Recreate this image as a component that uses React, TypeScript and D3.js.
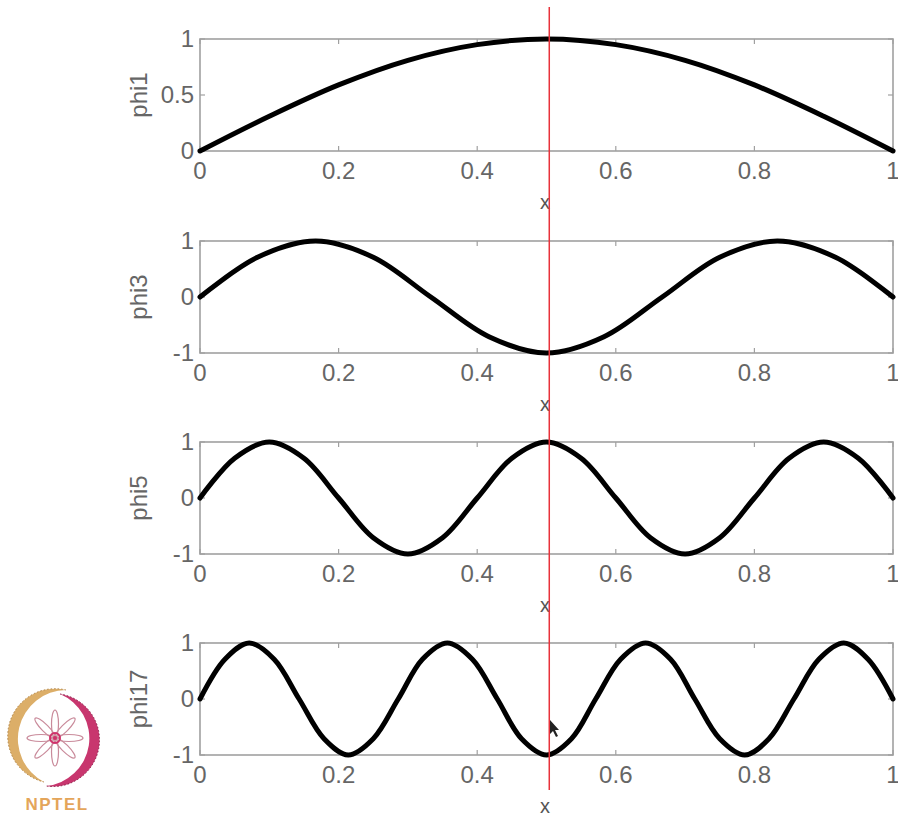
import React from 'react';
import * as d3 from 'd3';

// tick values / labels
const xTicks = [0, 0.2, 0.4, 0.6, 0.8, 1];
const xTickLabels = ['0', '0.2', '0.4', '0.6', '0.8', '1'];
const yTicksPos = [0, 0.5, 1];
const yTickLabelsPos = ['0', '0.5', '1'];
const yTicksSym = [-1, 0, 1];
const yTickLabelsSym = ['-1', '0', '1'];

// curves
const phi1X = [0, 0.1, 0.2, 0.3, 0.4, 0.5, 0.6, 0.7, 0.8, 0.9, 1];
const phi1Y = [0, 0.31, 0.59, 0.81, 0.95, 1, 0.95, 0.81, 0.59, 0.31, 0];

const phi3X = [0, 0.083, 0.167, 0.25, 0.333, 0.417, 0.5, 0.583, 0.667, 0.75, 0.833, 0.917, 1];
const phi3Y = [0, 0.71, 1, 0.71, 0, -0.71, -1, -0.71, 0, 0.71, 1, 0.71, 0];

const phi5X = [0, 0.05, 0.1, 0.15, 0.2, 0.25, 0.3, 0.35, 0.4, 0.45, 0.5, 0.55, 0.6, 0.65, 0.7, 0.75, 0.8, 0.85, 0.9, 0.95, 1];
const phi5Y = [0, 0.71, 1, 0.71, 0, -0.71, -1, -0.71, 0, 0.71, 1, 0.71, 0, -0.71, -1, -0.71, 0, 0.71, 1, 0.71, 0];

const phi17X = [0, 0.036, 0.071, 0.107, 0.143, 0.179, 0.214, 0.25, 0.286, 0.321, 0.357, 0.393, 0.429, 0.464, 0.5,
  0.536, 0.571, 0.607, 0.643, 0.679, 0.714, 0.75, 0.786, 0.821, 0.857, 0.893, 0.929, 0.964, 1];
const phi17Y = [0, 0.71, 1, 0.71, 0, -0.71, -1, -0.71, 0, 0.71, 1, 0.71, 0, -0.71, -1,
  -0.71, 0, 0.71, 1, 0.71, 0, -0.71, -1, -0.71, 0, 0.71, 1, 0.71, 0];

const panelNames = ['phi1', 'phi3', 'phi5', 'phi17'];
const cursorX = 0.504;

const W = 898;
const H = 818;
const left = 200;
const right = 893;
const tops = [39, 241, 442, 643];
const plotH = 112;
const font = '"Liberation Sans", Arial, Helvetica, sans-serif';
const axisColor = '#a0a0a0';
const textColor = '#666';

function Panel({ top, name, xs, ys, yTicks, yLabels }) {
  const x = d3.scaleLinear().domain([0, 1]).range([left, right]);
  const y = d3.scaleLinear().domain([yTicks[0], yTicks[yTicks.length - 1]]).range([top + plotH, top]);
  const line = d3.line<number>()
    .x((d, i) => x(xs[i]))
    .y((d) => y(d))
    .curve(d3.curveCatmullRom);
  const bottom = top + plotH;
  const tk = 5;

  return (
    <g>
      <rect x={left} y={top} width={right - left} height={plotH} fill="white" stroke={axisColor} strokeWidth={1.6} />
      {xTicks.map((t) => (
        <g key={'xt' + t}>
          <line x1={x(t)} x2={x(t)} y1={bottom} y2={bottom - tk} stroke={axisColor} strokeWidth={1.2} />
          <line x1={x(t)} x2={x(t)} y1={top} y2={top + tk} stroke={axisColor} strokeWidth={1.2} />
        </g>
      ))}
      {yTicks.map((t) => (
        <g key={'yt' + t}>
          <line x1={left} x2={left + tk} y1={y(t)} y2={y(t)} stroke={axisColor} strokeWidth={1.2} />
          <line x1={right} x2={right - tk} y1={y(t)} y2={y(t)} stroke={axisColor} strokeWidth={1.2} />
        </g>
      ))}
      <path d={line(ys) || ''} fill="none" stroke="#000" strokeWidth={5} strokeLinejoin="round" strokeLinecap="round" />
      {xTicks.map((t, i) => (
        <text key={'xl' + t} x={x(t)} y={bottom + 28} textAnchor="middle" fontSize={24} fill={textColor} fontFamily={font}>
          {xTickLabels[i]}
        </text>
      ))}
      {yTicks.map((t, i) => (
        <text key={'yl' + t} x={left - 6} y={y(t)} dy="0.35em" textAnchor="end" fontSize={24} fill={textColor} fontFamily={font}>
          {yLabels[i]}
        </text>
      ))}
      <text transform={`translate(147,${top + plotH / 2}) rotate(-90)`} textAnchor="middle" fontSize={24} fill={textColor} fontFamily={font}>
        {name}
      </text>
      <text x={545} y={bottom + 58} textAnchor="middle" fontSize={20} fill="#555" fontFamily={font}>x</text>
    </g>
  );
}

function Logo() {
  const petals = d3.range(8).map((i) => i * 45);
  return (
    <g>
      {/* left golden crescent */}
      <path d="M66,690 A47,47 0 0,0 44,782 A48.8,48.8 0 0,1 66,690 Z" fill="#dcae68" />
      <path d="M66,690 A47,47 0 0,0 44,782" fill="none" stroke="#b08448" strokeWidth={1} strokeDasharray="1.5 2" />
      {/* right magenta crescent */}
      <path d="M60,694 A46,46 0 0,1 46,786 A48,48 0 0,0 60,694 Z" fill="#c8366e" />
      <path d="M60,694 A46,46 0 0,1 46,786" fill="none" stroke="#8a1e48" strokeWidth={1} strokeDasharray="1.5 2" />
      <g transform="translate(55,738)">
        {petals.map((a) => (
          <ellipse key={a} cx={14} cy={0} rx={14} ry={3.5} transform={`rotate(${a})`} fill="none" stroke="#c98a9a" strokeWidth={1.2} />
        ))}
        <circle r={5} fill="none" stroke="#d0306a" strokeWidth={2} />
        <circle r={2} fill="#d0306a" />
      </g>
      <text x={57} y={810} textAnchor="middle" fontSize={17} fontWeight="bold" fill="#e4a55a" fontFamily={font} letterSpacing={1.5}>
        NPTEL
      </text>
    </g>
  );
}

export default function App() {
  const x = d3.scaleLinear().domain([0, 1]).range([left, right]);
  const panels = [
    { xs: phi1X, ys: phi1Y, yTicks: yTicksPos, yLabels: yTickLabelsPos },
    { xs: phi3X, ys: phi3Y, yTicks: yTicksSym, yLabels: yTickLabelsSym },
    { xs: phi5X, ys: phi5Y, yTicks: yTicksSym, yLabels: yTickLabelsSym },
    { xs: phi17X, ys: phi17Y, yTicks: yTicksSym, yLabels: yTickLabelsSym },
  ];
  return (
    <svg width={W} height={H} style={{ position: 'absolute', left: 0, top: 0, background: 'white' }}>
      <rect width={W} height={H} fill="white" />
      {panels.map((p, i) => (
        <Panel key={i} top={tops[i]} name={panelNames[i]} {...p} />
      ))}
      <line x1={x(cursorX)} x2={x(cursorX)} y1={7} y2={790} stroke="#e8323a" strokeWidth={1.5} />
      <path d="M550,720 l0,14 l3,-3 l3,6 l2,-1 l-3,-6 l4,0 Z" fill="#222" />
      <Logo />
    </svg>
  );
}
